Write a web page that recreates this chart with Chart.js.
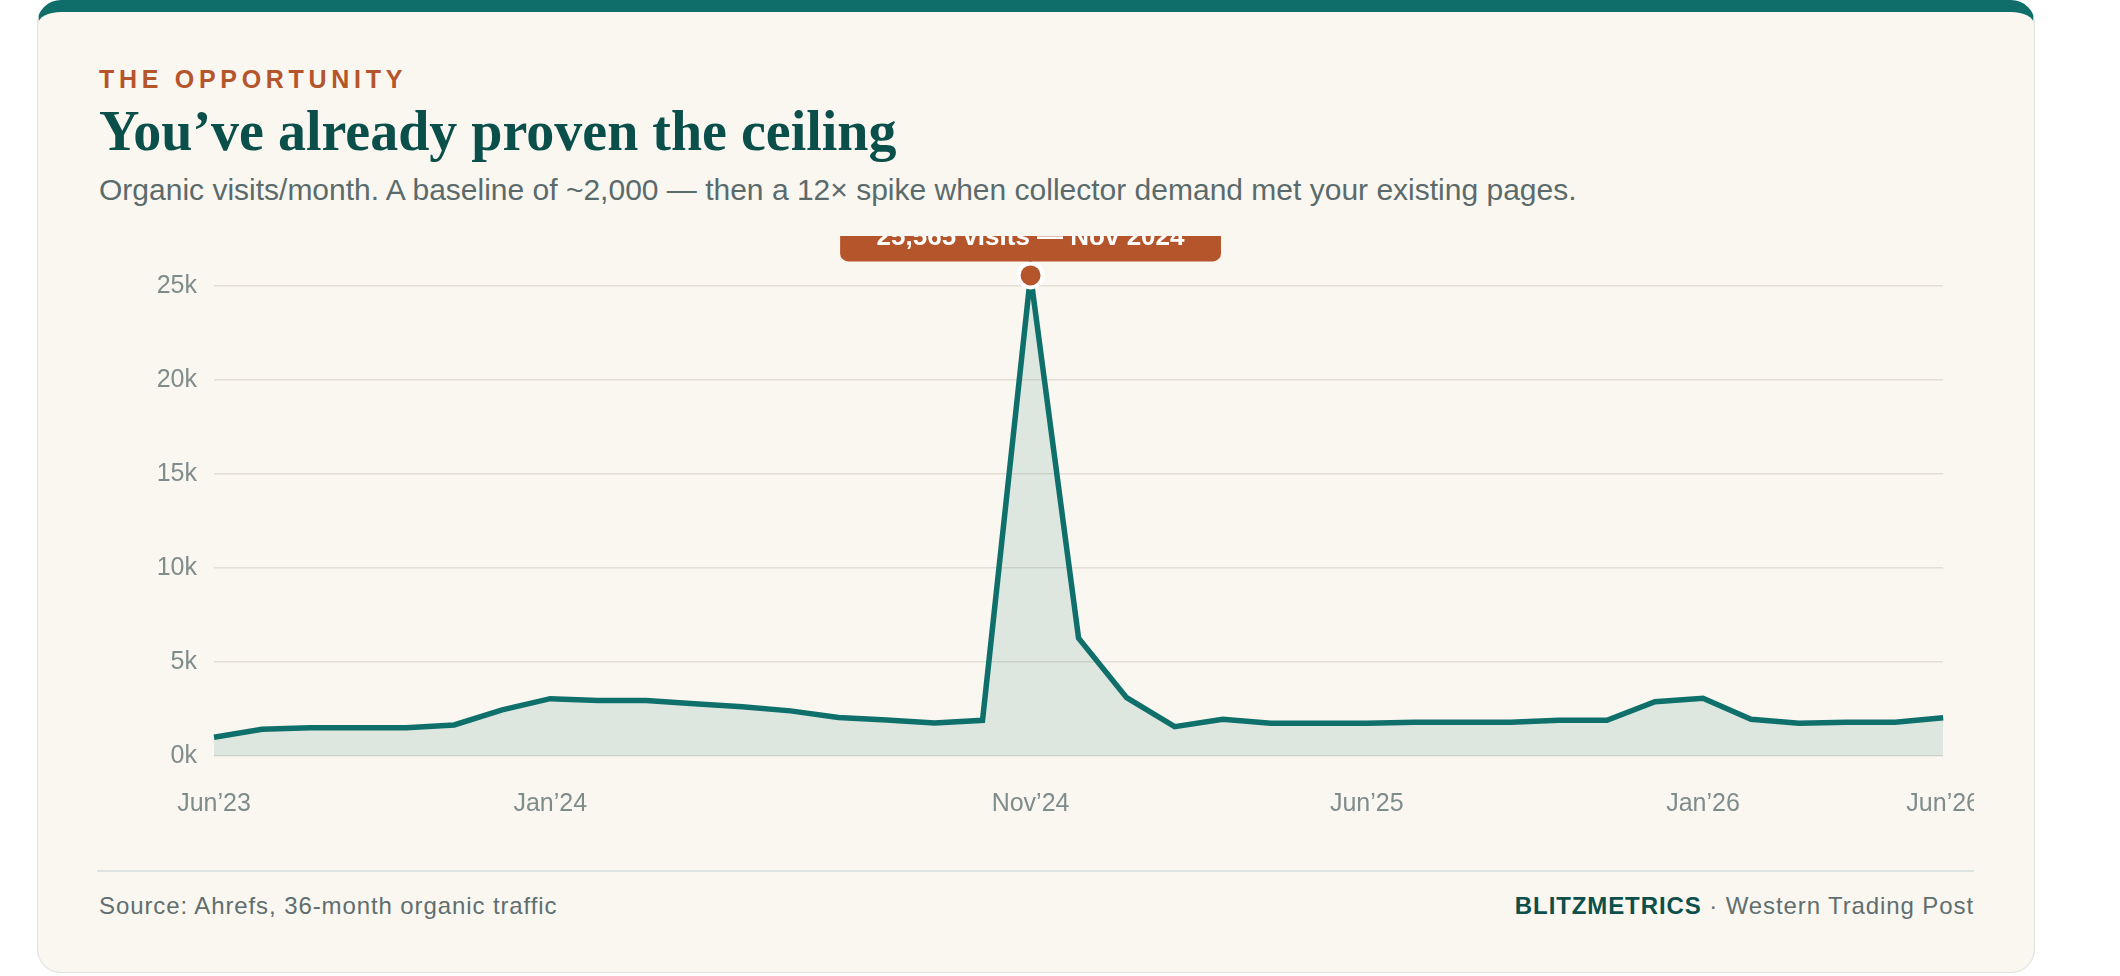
<!DOCTYPE html>
<html>
<head>
<meta charset="utf-8">
<script src="https://cdn.jsdelivr.net/npm/chart.js@4.4.1/dist/chart.umd.min.js"></script>
<style>
  html, body { margin: 0; padding: 0; background: #fff; }
  body { width: 2120px; height: 976px; position: relative; overflow: hidden; font-family: "Liberation Sans", Arial, sans-serif; }
  .card {
    position: absolute; left: 37px; top: 0; width: 1998px; height: 973px;
    box-sizing: border-box; background: #faf7f1;
    border: 1px solid #dde2de; border-top: 12px solid #0f6e6a; border-radius: 24px;
  }
  .txt { position: absolute; left: 99px; white-space: nowrap; }
  .eyebrow { top: 67px; font-size: 25px; line-height: 25px; font-weight: bold; letter-spacing: 4.7px; color: #b5552b; }
  .title { top: 103px; font-family: "Liberation Serif", "Times New Roman", serif; font-size: 56px; line-height: 56px; font-weight: bold; color: #0b4f4a; }
  .sub { top: 175px; font-size: 30px; line-height: 30px; color: #5b6b6b; }
  .divider { position: absolute; left: 97px; top: 870px; width: 1877px; height: 2px; background: #dde3e0; }
  .foot { top: 894px; font-size: 24px; line-height: 24px; color: #5f6e6e; letter-spacing: 0.9px; }
  .foot.right { left: auto; right: 146px; }
  .foot b { color: #0d4f4a; font-size: 24px; }
  #wrap { position: absolute; left: 99px; top: 236px; width: 1875px; height: 634px; overflow: hidden; }
  #inner { width: 1914px; height: 634px; }
</style>
</head>
<body>
<div class="card"></div>
<div class="txt eyebrow">THE OPPORTUNITY</div>
<div class="txt title">You’ve already proven the ceiling</div>
<div class="txt sub">Organic visits/month. A baseline of ~2,000 — then a 12× spike when collector demand met your existing pages.</div>
<div id="wrap"><div id="inner"><canvas id="trafficChart"></canvas></div></div>
<div class="divider"></div>
<div class="txt foot">Source: Ahrefs, 36-month organic traffic</div>
<div class="txt foot right"><b>BLITZMETRICS</b> · Western Trading Post</div>

<script>
// Months on the x axis, Jun'23 .. Jun'26
const months = [
    'Jun’23', 'Jul’23', 'Aug’23', 'Sep’23', 'Oct’23', 'Nov’23', 'Dec’23',
    'Jan’24', 'Feb’24', 'Mar’24', 'Apr’24', 'May’24', 'Jun’24', 'Jul’24', 'Aug’24', 'Sep’24', 'Oct’24', 'Nov’24', 'Dec’24',
    'Jan’25', 'Feb’25', 'Mar’25', 'Apr’25', 'May’25', 'Jun’25', 'Jul’25', 'Aug’25', 'Sep’25', 'Oct’25', 'Nov’25', 'Dec’25',
    'Jan’26', 'Feb’26', 'Mar’26', 'Apr’26', 'May’26', 'Jun’26'
];

// Organic visits per month
const visits = [
    1000, 1420, 1500, 1500, 1500, 1650, 2450,
    3050, 2950, 2950, 2780, 2620, 2400, 2050, 1920, 1750, 1900, 25565, 6270,
    3100, 1560, 1950, 1740, 1740, 1740, 1800, 1800, 1800, 1900, 1900, 2890,
    3070, 1950, 1740, 1800, 1800, 2040
];

// Labels shown on the x axis
const tickLabels = ['Jun’23', 'Jan’24', 'Nov’24', 'Jun’25', 'Jan’26', 'Jun’26'];
const yTicks = [0, 5000, 10000, 15000, 20000, 25000];

const peakIndex = 17;
const peakText = '25,565 visits — Nov 2024';

const teal = '#0f706b';
const orange = '#b5552b';

// Draws the rounded callout above the peak point
const peakLabel = {
    id: 'peakLabel',
    afterDatasetsDraw(chart) {
        const pt = chart.getDatasetMeta(0).data[peakIndex];
        const ctx = chart.ctx;
        ctx.save();
        ctx.font = 'bold 26px "Liberation Sans", Arial, sans-serif';
        const w = ctx.measureText(peakText).width + 73;
        const h = 49;
        const x = pt.x - w / 2;
        const y = pt.y - 14 - h;
        ctx.fillStyle = orange;
        ctx.beginPath();
        ctx.roundRect(x, y, w, h, 8);
        ctx.fill();
        ctx.fillStyle = '#fff';
        ctx.textAlign = 'center';
        ctx.textBaseline = 'middle';
        ctx.fillText(peakText, pt.x, y + h / 2 + 1);
        ctx.restore();
    }
};

const ctx = document.getElementById('trafficChart').getContext('2d');
new Chart(ctx, {
    type: 'line',
    data: {
        labels: months,
        datasets: [{
            data: visits,
            borderColor: teal,
            borderWidth: 5.5,
            backgroundColor: 'rgba(15, 112, 107, 0.12)',
            fill: 'origin',
            tension: 0,
            clip: false,
            pointRadius: c => c.dataIndex === peakIndex ? 12 : 0,
            pointHoverRadius: c => c.dataIndex === peakIndex ? 12 : 0,
            pointBackgroundColor: orange,
            pointBorderColor: '#fff',
            pointBorderWidth: 4
        }]
    },
    options: {
        responsive: true,
        maintainAspectRatio: false,
        animation: false,
        events: [],
        layout: { padding: { top: 50, bottom: 18, left: 0, right: 0 } },
        plugins: { legend: { display: false }, tooltip: { enabled: false } },
        scales: {
            x: {
                grid: { display: false, drawTicks: false },
                border: { display: false },
                ticks: {
                    autoSkip: false,
                    maxRotation: 0,
                    padding: 33,
                    color: '#7f8c8c',
                    font: { family: '"Liberation Sans", Arial, sans-serif', size: 25 },
                    callback: (v, i) => tickLabels.includes(months[i]) ? months[i] : ''
                }
            },
            y: {
                min: 0,
                max: 25000,
                afterFit: s => { s.width = 115; },
                afterBuildTicks: s => { s.ticks = yTicks.map(v => ({ value: v })); },
                grid: { color: '#e3dfd6', lineWidth: 1.5, drawTicks: false },
                border: { display: false },
                ticks: {
                    padding: 17,
                    color: '#7f8c8c',
                    font: { family: '"Liberation Sans", Arial, sans-serif', size: 25 },
                    callback: v => (v / 1000) + 'k'
                }
            }
        }
    },
    plugins: [peakLabel]
});
</script>
</body>
</html>
